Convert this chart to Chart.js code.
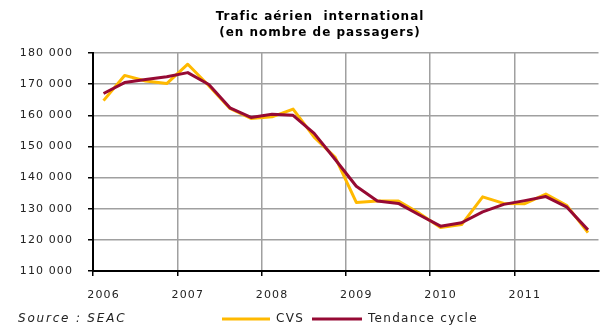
<!DOCTYPE html>
<html lang="fr">
<head>
<meta charset="utf-8">
<title>Trafic aérien international</title>
<script src="https://cdn.jsdelivr.net/npm/chart.js@4/dist/chart.umd.min.js"></script>
<style>
  html, body { margin: 0; padding: 0; background: #fff; }
  #wrap { position: relative; width: 601px; height: 331px; }
</style>
</head>
<body>
<div id="wrap"><canvas id="chart" width="601" height="331"></canvas></div>
<script>
// Trimestres 2006 - 2011
const years = [2006, 2007, 2008, 2009, 2010, 2011];
const quarters = ['T1', 'T2', 'T3', 'T4'];

// Nombre de passagers, données corrigées des variations saisonnières
const cvs = [
  164700, 172800, 171000, 170200,
  176400, 169500, 162200, 159000,
  159500, 162000, 153000, 146500,
  132000, 132500, 132500, 128500,
  124000, 124900, 133800, 131700,
  131600, 134700, 131000, 122300
];

// Tendance cycle
const tendance = [
  167000, 170500, 171500, 172400,
  173700, 169900, 162400, 159300,
  160300, 160000, 154200, 145800,
  137200, 132500, 131700, 128000,
  124400, 125500, 129000, 131400,
  132600, 133900, 130500, 123200
];

const yTicks = [110000, 120000, 130000, 140000, 150000, 160000, 170000, 180000];

const titleLines = ['Trafic aérien  international', '(en nombre de passagers)'];
const sourceText = 'Source : SEAC';
const seriesNames = ['CVS', 'Tendance cycle'];
const seriesColors = ['#FFB900', '#960A34'];

const categories = [];
years.forEach(y => quarters.forEach(q => categories.push(y + ' ' + q)));

const FONT = '"DejaVu Sans", Verdana, sans-serif';
const SPACING = '1.1px';
const GRID = '#A0A0A0';

function fmt(v) {
  return String(v).replace(/\B(?=(\d{3})+(?!\d))/g, ' ');
}

// Espacement des lettres appliqué au texte des axes
const spacingPlugin = {
  id: 'spacing',
  beforeLayout(chart) { chart.ctx.letterSpacing = SPACING; },
  beforeDraw(chart) { chart.ctx.letterSpacing = SPACING; }
};

// Titre, source et légende
const decorPlugin = {
  id: 'decor',
  afterDraw(chart) {
    const ctx = chart.ctx;
    ctx.save();
    ctx.letterSpacing = '1px';
    ctx.fillStyle = '#000';
    ctx.textAlign = 'center';
    ctx.textBaseline = 'middle';
    ctx.font = 'bold 12px ' + FONT;
    ctx.fillText(titleLines[0], 320, 17);
    ctx.fillText(titleLines[1], 320, 33);

    ctx.letterSpacing = '1.8px';
    ctx.textAlign = 'left';
    ctx.fillStyle = '#222';
    ctx.font = 'italic 12px ' + FONT;
    ctx.fillText(sourceText, 18, 319);

    ctx.letterSpacing = '1.3px';
    ctx.font = '12px ' + FONT;
    const items = [
      { x0: 222, x1: 270, tx: 276 },
      { x0: 312, x1: 362, tx: 368 }
    ];
    items.forEach((it, i) => {
      ctx.strokeStyle = seriesColors[i];
      ctx.lineWidth = 3;
      ctx.beginPath();
      ctx.moveTo(it.x0, 319);
      ctx.lineTo(it.x1, 319);
      ctx.stroke();
      ctx.fillText(seriesNames[i], it.tx, 319);
    });
    ctx.restore();
  }
};

new Chart(document.getElementById('chart'), {
  type: 'line',
  data: {
    labels: categories,
    datasets: [
      {
        label: seriesNames[0],
        data: cvs,
        borderColor: seriesColors[0],
        backgroundColor: seriesColors[0],
        borderWidth: 3,
        order: 2
      },
      {
        label: seriesNames[1],
        data: tendance,
        borderColor: seriesColors[1],
        backgroundColor: seriesColors[1],
        borderWidth: 3,
        order: 1
      }
    ]
  },
  options: {
    responsive: false,
    animation: false,
    events: [],
    layout: { padding: { top: 53, right: 1, left: 0, bottom: 0 } },
    elements: {
      line: { tension: 0, borderJoinStyle: 'round', borderCapStyle: 'butt' },
      point: { radius: 0 }
    },
    plugins: {
      legend: { display: false },
      title: { display: false },
      tooltip: { enabled: false }
    },
    scales: {
      x: {
        type: 'category',
        offset: true,
        afterFit(scale) { scale.height = 60; },
        border: { display: true, color: '#000', width: 2 },
        grid: {
          offset: true,
          lineWidth: 1.5,
          tickLength: 5,
          color: c => (c.index % 4 === 0 ? GRID : 'rgba(0,0,0,0)'),
          tickColor: c => (c.index % 4 === 0 ? '#000' : 'rgba(0,0,0,0)')
        },
        ticks: {
          autoSkip: false,
          maxRotation: 0,
          padding: 13,
          color: '#222',
          font: { family: FONT, size: 11 },
          callback(v, i) { return i % 4 === 0 ? String(years[i / 4]) : ''; }
        }
      },
      y: {
        min: yTicks[0],
        max: yTicks[yTicks.length - 1],
        afterFit(scale) { scale.width = 93; },
        afterBuildTicks(scale) { scale.ticks = yTicks.map(v => ({ value: v })); },
        border: { display: true, color: '#000', width: 2 },
        grid: {
          color: GRID,
          lineWidth: 1.5,
          tickLength: 5,
          tickColor: '#000'
        },
        ticks: {
          padding: 15,
          color: '#222',
          font: { family: FONT, size: 11 },
          callback: v => fmt(v)
        }
      }
    }
  },
  plugins: [spacingPlugin, decorPlugin]
});
</script>
</body>
</html>
